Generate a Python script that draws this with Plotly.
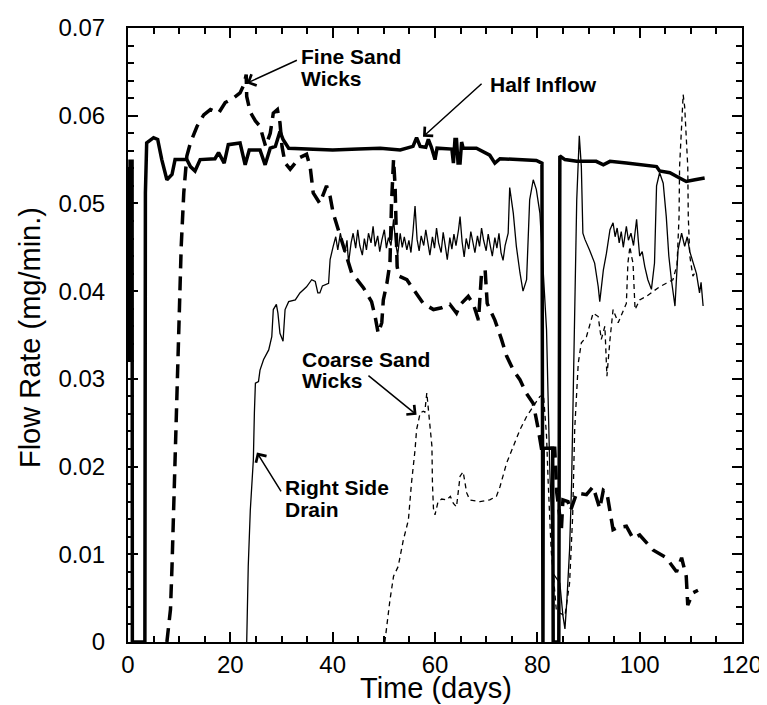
import plotly.graph_objects as go

# ---------------- data ----------------
half_inflow_days = [0.0, 0.1, 0.2, 0.3, 0.4, 0.5, 0.6, 0.7, 0.8, 0.85, 3.3, 3.4, 3.65, 5.0, 5.8, 6.6,
                    7.6, 8.6, 9.2, 11.5, 12.2, 13.1, 14.1, 17.0, 17.7, 18.8, 19.6, 21.9, 22.9, 23.7,
                    25.8, 26.8, 27.8, 28.8, 29.7, 30.3, 31.4, 35.0, 40.0, 45.0, 49.3, 53.2, 55.7,
                    56.4, 57.1, 58.2, 58.7, 59.3, 60.0, 60.4, 63.3, 63.6, 63.9, 64.2, 64.5, 64.9,
                    65.2, 65.5, 68.1, 70.7, 71.7, 72.7, 79.8, 80.9, 81.0, 81.1, 81.15, 83.0, 83.1,
                    84.2, 84.4, 85.4, 87.7, 91.5, 92.9, 94.2, 97.4, 101.3, 103.3, 103.9, 105.9,
                    107.8, 109.1, 110.8, 112.7]
half_inflow_vals = [0.050, 0.033, 0.054, 0.032, 0.055, 0.033, 0.053, 0.034, 0.055, 0.0, 0.0, 0.0512,
                    0.0569, 0.0575, 0.0573, 0.0550, 0.0527, 0.0533, 0.0550, 0.0550, 0.0542, 0.0537,
                    0.0550, 0.0551, 0.0558, 0.0546, 0.0567, 0.0569, 0.0544, 0.0561, 0.0561, 0.0544,
                    0.0563, 0.0565, 0.0582, 0.0573, 0.0563, 0.0562, 0.0561, 0.0562, 0.0563, 0.0561,
                    0.0565, 0.0575, 0.0565, 0.0564, 0.0573, 0.0564, 0.0550, 0.0563, 0.0562, 0.0546,
                    0.0573, 0.0573, 0.0546, 0.0546, 0.0570, 0.0563, 0.0563, 0.0555, 0.0546, 0.0551,
                    0.0549, 0.0546, 0.0, 0.0, 0.0221, 0.0221, 0.0, 0.0, 0.0554, 0.0550, 0.0548,
                    0.0548, 0.0544, 0.0548, 0.0546, 0.0544, 0.0542, 0.0537, 0.0535, 0.0529, 0.0525,
                    0.0527, 0.0529]

fine_sand_days = [7.6, 8.3, 8.6, 8.9, 9.2, 9.4, 9.7, 10.1, 10.4, 10.9, 11.5, 12.2, 13.5, 14.8, 16.1,
                  17.7, 19.0, 20.6, 21.9, 22.7, 23.1, 23.2, 23.9, 24.9, 25.8, 26.5, 26.9, 27.8, 28.4,
                  29.2, 29.7, 30.1, 30.7, 31.7, 32.7, 33.5, 34.9, 35.6, 35.9, 36.2, 37.5, 38.8, 39.5,
                  40.1, 41.1, 42.4, 43.7, 46.0, 47.6, 48.3, 48.9, 49.6, 49.9, 50.6, 51.2, 51.5, 51.9,
                  52.2, 52.5, 52.6, 53.0, 54.5, 55.8, 57.7, 59.7, 61.3, 62.9, 64.2, 65.0, 66.5, 67.5,
                  68.5, 69.1, 69.8, 70.2, 71.7, 73.0, 74.0, 75.3, 76.6, 77.8, 79.2, 80.2, 80.8, 83.4,
                  83.8, 84.4, 84.7, 85.0, 86.0, 86.5, 87.7, 89.6, 90.9, 92.2, 92.9, 93.6, 94.2, 94.8,
                  95.5, 97.4, 98.7, 100.0, 102.6, 105.2, 107.2, 108.2, 109.1, 109.4, 110.4, 111.4]
fine_sand_vals = [0.0, 0.0037, 0.0086, 0.0143, 0.0198, 0.0261, 0.0318, 0.0398, 0.0451, 0.0512,
                  0.0554, 0.0569, 0.0588, 0.0601, 0.0607, 0.0603, 0.0615, 0.0620, 0.0626, 0.0636,
                  0.0647, 0.0622, 0.0604, 0.0594, 0.0588, 0.0573, 0.0565, 0.0580, 0.0603, 0.0607,
                  0.0592, 0.0565, 0.0546, 0.0539, 0.0546, 0.0552, 0.0556, 0.0542, 0.0527, 0.0512,
                  0.0500, 0.0520, 0.0508, 0.0489, 0.0470, 0.0445, 0.0421, 0.0404, 0.0388, 0.0371,
                  0.0352, 0.0364, 0.0390, 0.0409, 0.0432, 0.0500, 0.0550, 0.0520, 0.0466, 0.0428,
                  0.0417, 0.0413, 0.0402, 0.0386, 0.0379, 0.0381, 0.0385, 0.0375, 0.0385, 0.0394,
                  0.0385, 0.0367, 0.0421, 0.0424, 0.0386, 0.0367, 0.0345, 0.0326, 0.0310, 0.0299,
                  0.0284, 0.0272, 0.0242, 0.0221, 0.0221, 0.0170, 0.0143, 0.0128, 0.0162, 0.0160,
                  0.0150, 0.0170, 0.0168, 0.0177, 0.0152, 0.0173, 0.0170, 0.0149, 0.0128, 0.0130,
                  0.0132, 0.0118, 0.0122, 0.0105, 0.0096, 0.0080, 0.0096, 0.0075, 0.0042, 0.0056,
                  0.0059]

right_drain_days = [23.2, 23.5, 23.9, 24.5, 24.7, 24.9, 25.5, 25.8, 26.5, 27.5, 28.1, 28.4, 29.0, 29.3,
                    29.7, 30.3, 30.7, 31.4, 32.7, 33.6, 34.9, 35.9, 36.6, 37.1, 37.5, 38.0, 39.2,
                    39.5, 40.1, 40.6, 41.0, 41.5, 41.9, 42.4, 42.8, 43.1, 43.6, 44.0, 44.5, 44.9,
                    45.3, 45.8, 46.2, 46.6, 47.0, 47.5, 47.9, 48.3, 48.8, 49.2, 49.6, 50.1, 50.5,
                    50.9, 51.4, 51.9, 52.3, 52.7, 53.2, 53.6, 54.0, 54.5, 54.9, 55.3, 55.7, 56.1,
                    56.5, 56.9, 57.3, 57.8, 58.2, 58.6, 59.0, 59.5, 59.9, 60.3, 60.7, 61.2, 61.6,
                    62.0, 62.4, 62.9, 63.3, 63.7, 64.1, 64.6, 64.9, 65.3, 65.7, 66.1, 66.6, 67.0,
                    67.4, 67.8, 68.3, 68.7, 69.1, 69.5, 70.0, 70.4, 70.8, 71.2, 71.7, 72.1, 72.5,
                    72.9, 73.3, 73.7, 74.3, 74.6, 75.3, 75.9, 76.6, 77.2, 77.9, 78.2, 78.5, 79.2,
                    79.8, 80.5, 81.0, 81.8, 82.1, 82.4, 83.1, 84.4, 85.0, 85.4, 85.8, 86.3, 86.7,
                    87.0, 87.3, 87.7, 88.2, 88.6, 88.9, 89.3, 90.2, 91.2, 91.9, 92.2, 92.9, 93.5,
                    94.2, 94.8, 95.2, 95.6, 96.0, 96.4, 96.8, 97.4, 97.8, 98.3, 98.8, 99.4, 99.7,
                    100.0, 100.5, 101.0, 101.6, 102.3, 102.9, 103.3, 103.9, 104.6, 105.2, 105.7,
                    106.2, 106.9, 107.5, 108.2, 108.8, 109.3, 109.8, 110.4, 111.1, 111.7, 112.0,
                    112.4]
right_drain_vals = [0.0, 0.0086, 0.0150, 0.0208, 0.0261, 0.0295, 0.0297, 0.0310, 0.0322, 0.0333,
                    0.0348, 0.0379, 0.0385, 0.0375, 0.0352, 0.0343, 0.0379, 0.0388, 0.0390, 0.0398,
                    0.0405, 0.0413, 0.0411, 0.0398, 0.0398, 0.0406, 0.0409, 0.0436, 0.0451, 0.0462,
                    0.0447, 0.0466, 0.0455, 0.0444, 0.0458, 0.0432, 0.0455, 0.0466, 0.0449, 0.0470,
                    0.0452, 0.0441, 0.0460, 0.0447, 0.0466, 0.0455, 0.0474, 0.0451, 0.0463, 0.0445,
                    0.0458, 0.0470, 0.0449, 0.0461, 0.0452, 0.0482, 0.0455, 0.0441, 0.0466, 0.0450,
                    0.0462, 0.0447, 0.0458, 0.0444, 0.0468, 0.0497, 0.0459, 0.0446, 0.0463, 0.0452,
                    0.0470, 0.0456, 0.0441, 0.0462, 0.0449, 0.0472, 0.0455, 0.0444, 0.0467, 0.0452,
                    0.0436, 0.0461, 0.0448, 0.0465, 0.0452, 0.0470, 0.0485, 0.0456, 0.0439, 0.0460,
                    0.0448, 0.0468, 0.0455, 0.0444, 0.0463, 0.0451, 0.0472, 0.0458, 0.0446, 0.0465,
                    0.0452, 0.0440, 0.0461, 0.0449, 0.0466, 0.0444, 0.0435, 0.0452, 0.0466, 0.0518,
                    0.0489, 0.0451, 0.0421, 0.0400, 0.0413, 0.0455, 0.0504, 0.0527, 0.0516, 0.0489,
                    0.0440, 0.0356, 0.0280, 0.0204, 0.0078, 0.0067, 0.0030, 0.0015, 0.0050, 0.0105,
                    0.0181, 0.0280, 0.0394, 0.0504, 0.0577, 0.0542, 0.0466, 0.0459, 0.0447, 0.0432,
                    0.0405, 0.0388, 0.0424, 0.0443, 0.0470, 0.0478, 0.0462, 0.0472, 0.0455, 0.0468,
                    0.0450, 0.0474, 0.0458, 0.0466, 0.0452, 0.0482, 0.0460, 0.0440, 0.0445, 0.0428,
                    0.0413, 0.0402, 0.0432, 0.0520, 0.0535, 0.0523, 0.0485, 0.0440, 0.0413, 0.0383,
                    0.0447, 0.0466, 0.0451, 0.0462, 0.0445, 0.0432, 0.0420, 0.0398, 0.0410, 0.0383]

coarse_sand_days = [50.2, 50.6, 51.2, 51.9, 52.8, 53.8, 54.8, 55.4, 55.8, 56.1, 56.4, 57.1, 57.7, 58.0,
                    58.4, 58.9, 59.4, 59.5, 59.7, 60.0, 60.6, 61.3, 62.3, 63.0, 63.6, 64.2, 64.9,
                    65.5, 66.2, 66.8, 68.8, 70.7, 72.0, 72.7, 73.6, 74.0, 75.3, 76.6, 77.9, 79.2,
                    80.5, 81.2, 81.8, 82.1, 82.7, 83.7, 84.4, 85.4, 86.3, 86.9, 87.2, 87.3, 88.0,
                    88.6, 89.6, 90.9, 91.9, 92.5, 93.2, 93.6, 94.2, 94.8, 95.8, 96.8, 97.4, 97.7,
                    98.1, 98.4, 98.7, 99.1, 100.0, 101.3, 102.6, 103.9, 105.2, 106.5, 107.3, 107.7,
                    107.8, 108.2, 108.5, 108.8, 109.1, 109.4, 109.5, 109.6, 109.8, 110.4, 111.1]
coarse_sand_vals = [0.0, 0.0021, 0.0048, 0.0075, 0.0086, 0.0116, 0.0139, 0.0181, 0.0200, 0.0219,
                    0.0242, 0.0261, 0.0263, 0.0262, 0.0284, 0.0257, 0.0223, 0.0181, 0.0152, 0.0145,
                    0.0160, 0.0163, 0.0162, 0.0166, 0.0158, 0.0154, 0.0189, 0.0194, 0.0170, 0.0162,
                    0.0160, 0.0162, 0.0166, 0.0177, 0.0196, 0.0204, 0.0223, 0.0242, 0.0257, 0.0268,
                    0.0280, 0.0282, 0.0235, 0.0185, 0.0105, 0.0037, 0.0033, 0.0030, 0.0067, 0.0143,
                    0.0200, 0.0242, 0.0318, 0.0341, 0.0348, 0.0375, 0.0371, 0.0345, 0.0360, 0.0303,
                    0.0345, 0.0379, 0.0364, 0.0379, 0.0386, 0.0432, 0.0451, 0.0440, 0.0432, 0.0379,
                    0.0390, 0.0394, 0.0400, 0.0405, 0.0409, 0.0413, 0.0430, 0.0485, 0.0542, 0.0600,
                    0.0624, 0.0610, 0.0580, 0.0542, 0.0485, 0.0460, 0.0440, 0.0417, 0.0424]

x_tick_vals = [0, 20, 40, 60, 80, 100, 120]
x_tick_text = ["0", "20", "40", "60", "80", "100", "120"]
y_tick_vals = [0, 0.01, 0.02, 0.03, 0.04, 0.05, 0.06, 0.07]
y_tick_text = ["0", "0.01", "0.02", "0.03", "0.04", "0.05", "0.06", "0.07"]

FONT = "Liberation Sans, Arial, Helvetica, sans-serif"

fig = go.Figure()
fig.add_trace(go.Scatter(x=coarse_sand_days, y=coarse_sand_vals, mode="lines", name="Coarse Sand Wicks",
                         line=dict(color="black", width=1.3, dash="5px,4px")))
fig.add_trace(go.Scatter(x=right_drain_days, y=right_drain_vals, mode="lines", name="Right Side Drain",
                         line=dict(color="black", width=1.3)))
fig.add_trace(go.Scatter(x=fine_sand_days, y=fine_sand_vals, mode="lines", name="Fine Sand Wicks",
                         line=dict(color="black", width=3.5, dash="14px,8px")))
fig.add_trace(go.Scatter(x=half_inflow_days, y=half_inflow_vals, mode="lines", name="Half Inflow",
                         line=dict(color="black", width=3.5)))

axis_common = dict(
    showgrid=False, zeroline=False, showline=True, linecolor="black", linewidth=2,
    mirror="ticks", ticks="inside", ticklen=10, tickwidth=1.5, tickcolor="black",
    tickfont=dict(family=FONT, size=24, color="black"), automargin=False,
)
fig.update_xaxes(range=[0, 120], tickvals=x_tick_vals, ticktext=x_tick_text,
                 minor=dict(ticks="inside", ticklen=6, tickwidth=1.5, tickcolor="black", dtick=5, tick0=0),
                 ticklabelstandoff=0,
                 **axis_common)
fig.update_yaxes(range=[0, 0.07], tickvals=y_tick_vals, ticktext=y_tick_text,
                 minor=dict(ticks="inside", ticklen=6, tickwidth=1.5, tickcolor="black", dtick=0.002, tick0=0),
                 ticklabelstandoff=16,
                 **axis_common)

title_font = dict(family=FONT, size=29, color="black")
fig.add_annotation(xref="paper", yref="paper", x=0.5024, y=-0.075, xanchor="center", yanchor="middle",
                   text="Time (days)", showarrow=False, font=title_font)
fig.add_annotation(xref="paper", yref="paper", x=-0.1596, y=0.495, xanchor="center", yanchor="middle",
                   text="Flow Rate (mg/min.)", textangle=-90, showarrow=False, font=title_font)

lab = dict(family=FONT, size=21, color="black")
annotations = [
    dict(x=33.4, y=0.0667, text="<b>Fine Sand</b>"),
    dict(x=33.4, y=0.0642, text="<b>Wicks</b>"),
    dict(x=70.4, y=0.0636, text="<b>Half Inflow</b>"),
    dict(x=33.7, y=0.0322, text="<b>Coarse Sand</b>"),
    dict(x=33.7, y=0.0298, text="<b>Wicks</b>"),
    dict(x=30.3, y=0.01763, text="<b>Right Side</b>"),
    dict(x=30.3, y=0.01512, text="<b>Drain</b>"),
]
for a in annotations:
    fig.add_annotation(xref="x", yref="y", xanchor="left", yanchor="middle", showarrow=False,
                       font=lab, **a)

arrows = [
    (23.2, 0.0637, 33.3, 0.0664),
    (57.65, 0.0576, 69.4, 0.0638),
    (56.4, 0.0259, 46.7, 0.0305),
    (25.2, 0.0216, 30.1, 0.0170),
]
for (x, y, axv, ayv) in arrows:
    fig.add_annotation(x=x, y=y, ax=axv, ay=ayv, xref="x", yref="y", axref="x", ayref="y",
                       text="", showarrow=True, arrowhead=4, arrowsize=1.6, arrowwidth=1.5,
                       arrowcolor="black", standoff=0)

# the page body adds an 8 px offset, so margins are reduced by 8 px on the left/top
fig.update_layout(
    width=767, height=705,
    margin=dict(l=120, r=33, t=20, b=71),
    paper_bgcolor="white", plot_bgcolor="white",
    showlegend=False,
    font=dict(family=FONT, color="black"),
)

fig.write_html("out.html")
